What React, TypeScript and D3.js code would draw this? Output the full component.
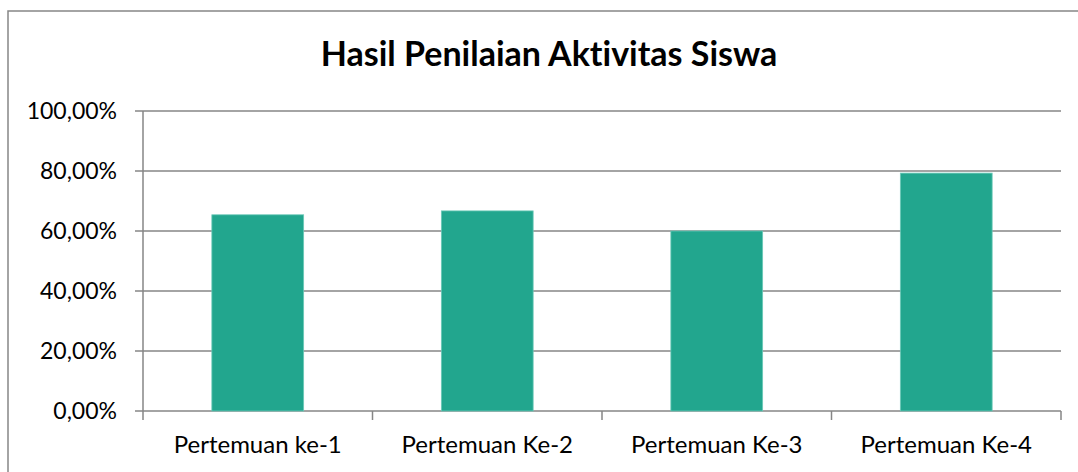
import * as d3 from "d3";

const categories = [
  "Pertemuan ke-1",
  "Pertemuan Ke-2",
  "Pertemuan Ke-3",
  "Pertemuan Ke-4",
];
const values = [0.654, 0.667, 0.6, 0.793];
const yTicks = [0, 0.2, 0.4, 0.6, 0.8, 1.0];

const title = "Hasil Penilaian Aktivitas Siswa";

export default function App() {
  const width = 1078;
  const height = 472;
  const left = 143;
  const right = 1061;
  const top = 111;
  const bottom = 411;
  const font = "Lato, 'Open Sans', sans-serif";
  const gridColor = "#868686";

  const x = d3.scaleBand().domain(categories).range([left, right]).paddingInner(0.6).paddingOuter(0.3);
  const bandStep = (right - left) / categories.length;
  const y = d3.scaleLinear().domain([0, 1]).range([bottom, top]);
  const fmt = (v: number) => (v * 100).toFixed(2).replace(".", ",") + "%";

  return (
    <svg
      width={width}
      height={height}
      style={{ position: "absolute", left: 0, top: 0, background: "#fff", fontVariantLigatures: "none" }}
    >
      <rect x={8} y={11} width={1200} height={600} fill="#fff" stroke={gridColor} strokeWidth={1.5} />
      <text
        x={549}
        y={66}
        textAnchor="middle"
        fontFamily={font}
        fontWeight="bold"
        fontSize={34}
        fill="#000"
      >
        {title}
      </text>
      {yTicks.map((t) => (
        <g key={t}>
          <line x1={left - 8} x2={right} y1={y(t)} y2={y(t)} stroke={gridColor} strokeWidth={1.5} />
          <text
            x={117}
            y={y(t)}
            dy="0.36em"
            textAnchor="end"
            fontFamily={font}
            fontSize={23}
            fill="#000"
          >
            {fmt(t)}
          </text>
        </g>
      ))}
      <line x1={left} x2={left} y1={top} y2={bottom} stroke={gridColor} strokeWidth={1.5} />
      {d3.range(categories.length + 1).map((i) => (
        <line
          key={i}
          x1={left + i * bandStep}
          x2={left + i * bandStep}
          y1={bottom}
          y2={bottom + 9}
          stroke={gridColor}
          strokeWidth={1.5}
        />
      ))}
      {categories.map((c, i) => (
        <g key={c}>
          <rect
            x={x(c)}
            y={y(values[i])}
            width={x.bandwidth()}
            height={bottom - y(values[i])}
            fill="#22A68E"
            stroke="#6cc9b8"
            strokeWidth={0.8}
          />
          <text
            x={(x(c) ?? 0) + x.bandwidth() / 2}
            y={453}
            textAnchor="middle"
            fontFamily={font}
            fontSize={24}
            fill="#000"
          >
            {c}
          </text>
        </g>
      ))}
    </svg>
  );
}
